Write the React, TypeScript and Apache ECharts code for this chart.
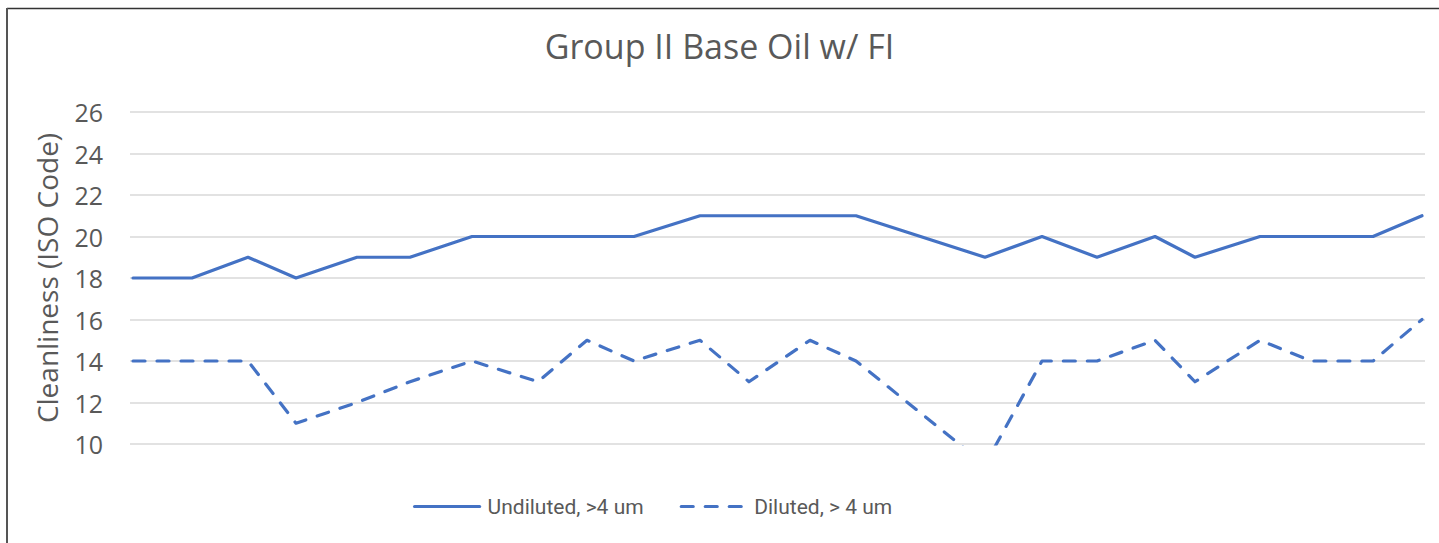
import React, { useEffect, useRef } from "react";
import * as echarts from "echarts";

const titleText = "Group II Base Oil w/ FI";
const yAxisName = "Cleanliness (ISO Code)";
const seriesNames = ["Undiluted, >4 um", "Diluted, > 4 um"];

// Horizontal sample positions (unlabelled axis)
const sampleX = [0, 59, 115, 163, 224, 277, 339, 405, 454, 501, 567, 616, 677, 723, 852, 909, 964, 1022, 1062, 1127, 1178, 1240, 1289];
const undiluted = [18, 18, 19, 18, 19, 19, 20, 20, 20, 20, 21, 21, 21, 21, 19, 20, 19, 20, 19, 20, 20, 20, 21];
const diluted = [14, 14, 14, 11, 12, 13, 14, 13, 15, 14, 15, 13, 15, 14, 9, 14, 14, 15, 13, 15, 14, 14, 16];

const yMin = 10;
const yMax = 26;
const yStep = 2;

const BLUE = "#4472C4";
const GREY_TEXT = "#595959";

export default function App() {
  const ref = useRef<HTMLDivElement>(null);

  useEffect(() => {
    if (!ref.current) return;
    const chart = echarts.init(ref.current, undefined, { renderer: "svg" });
    const pairs = (ys: number[]) => sampleX.map((x, i) => [x, ys[i]]);
    chart.setOption({
      animation: false,
      backgroundColor: "#ffffff",
      title: {
        text: titleText,
        left: "center",
        top: 24,
        textStyle: { fontFamily: "Open Sans", fontSize: 34, fontWeight: "normal", color: GREY_TEXT },
      },
      grid: { left: 130, right: 14, top: 112, bottom: 99, containLabel: false },
      xAxis: {
        type: "value",
        min: -3,
        max: 1292,
        show: false,
      },
      yAxis: {
        type: "value",
        min: yMin,
        max: yMax,
        interval: yStep,
        name: yAxisName,
        nameLocation: "middle",
        nameRotate: 90,
        nameGap: 69,
        nameTextStyle: { fontFamily: "Open Sans", fontSize: 28, color: GREY_TEXT },
        axisLine: { show: false },
        axisTick: { show: false },
        axisLabel: { fontFamily: "Open Sans", fontSize: 25, color: GREY_TEXT, margin: 27 },
        splitLine: { lineStyle: { color: "#D9D9D9", width: 1.5 } },
      },
      legend: {
        left: 408,
        top: 491,
        itemWidth: 65,
        itemHeight: 14,
        itemGap: 36,
        itemStyle: { opacity: 0 },
        lineStyle: { width: 3.2 },
        textStyle: {
          fontFamily: "Roboto",
          fontSize: 21,
          color: GREY_TEXT,
          padding: [0, 0, 0, 3],
        },
        data: seriesNames,
      },
      graphic: [
        { type: "line", shape: { x1: 7, y1: 8.5, x2: 1439, y2: 8.5 }, style: { stroke: "#333333", lineWidth: 1.5 } },
        { type: "line", shape: { x1: 7, y1: 8, x2: 7, y2: 543 }, style: { stroke: "#555555", lineWidth: 2 } },
      ],
      series: [
        {
          name: seriesNames[0],
          type: "line",
          data: pairs(undiluted),
          symbol: "none",
          clip: true,
          lineStyle: { color: BLUE, width: 3.2, cap: "round", join: "round" },
          itemStyle: { color: BLUE },
        },
        {
          name: seriesNames[1],
          type: "line",
          data: pairs(diluted),
          symbol: "none",
          clip: true,
          lineStyle: { color: BLUE, width: 3.2, type: [12, 12], cap: "round", join: "round" },
          itemStyle: { color: BLUE },
        },
      ],
    });
    return () => chart.dispose();
  }, []);

  return (
    <div
      ref={ref}
      style={{ position: "absolute", left: 0, top: 0, width: 1439, height: 543, background: "#fff" }}
    />
  );
}
